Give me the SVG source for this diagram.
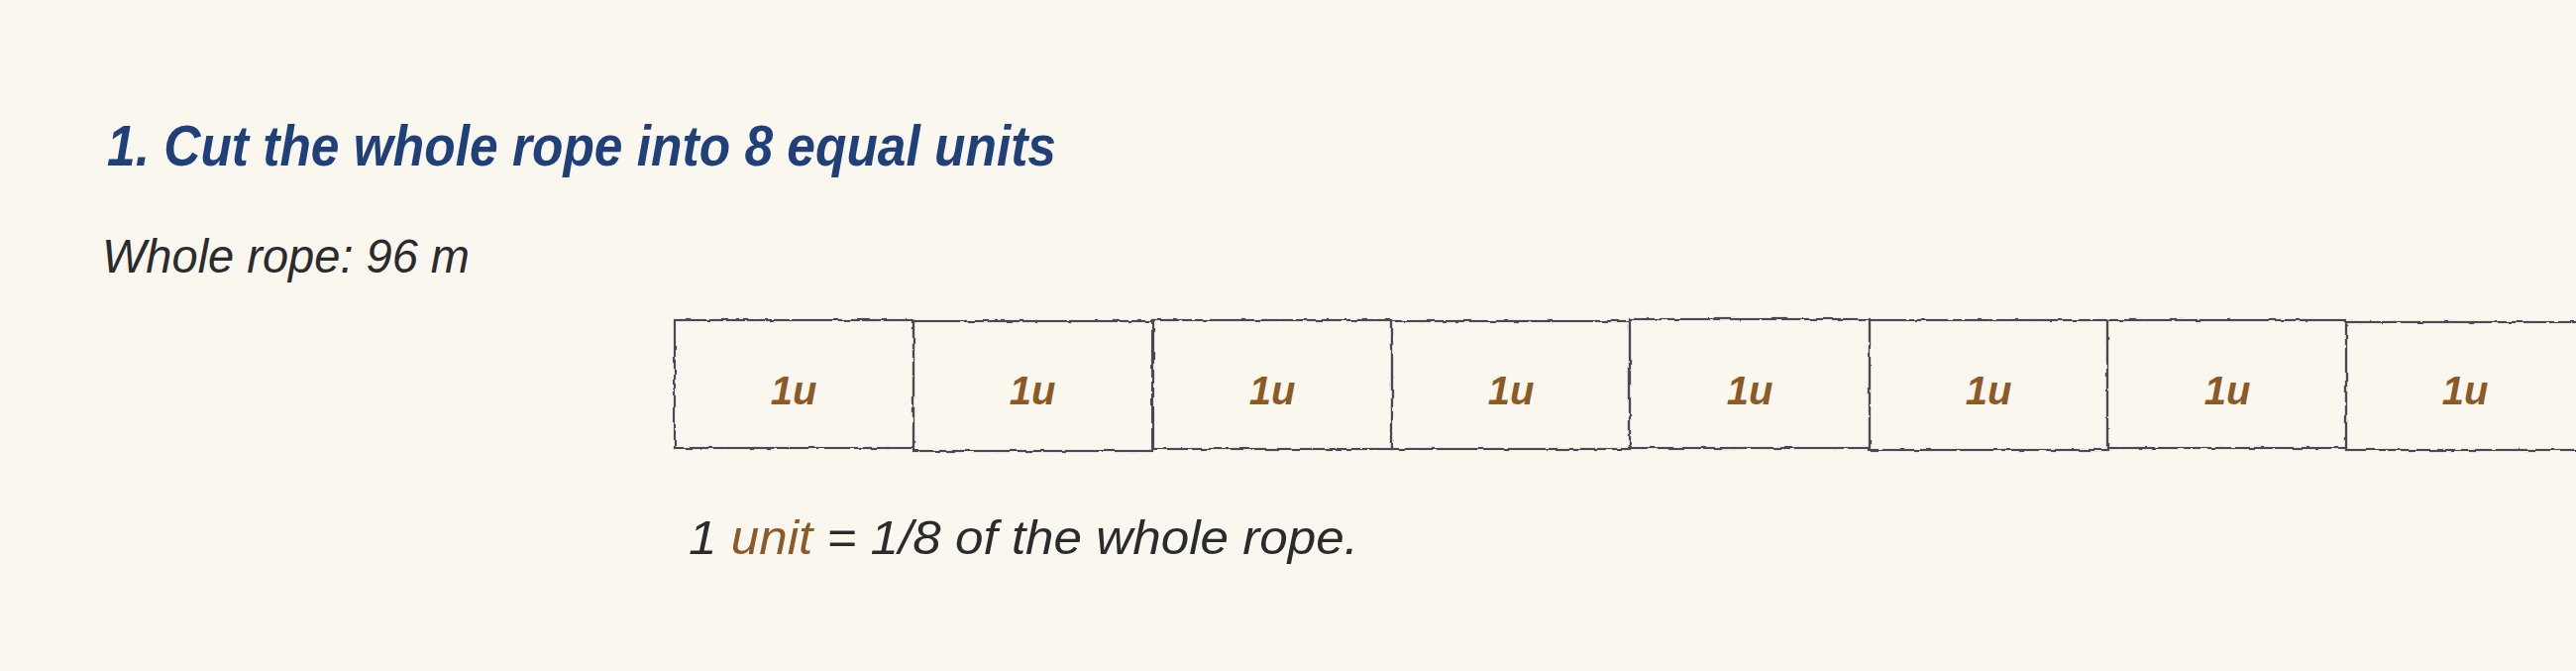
<svg xmlns="http://www.w3.org/2000/svg" width="2600" height="677" viewBox="0 0 2600 677">
  <defs>
    <filter id="rough" x="-5%" y="-5%" width="110%" height="110%">
      <feTurbulence type="fractalNoise" baseFrequency="0.08" numOctaves="2" seed="4" result="n"/>
      <feDisplacementMap in="SourceGraphic" in2="n" scale="3.5" xChannelSelector="R" yChannelSelector="G"/>
    </filter>
  </defs>
  <style>
    .hand { font-family: "Liberation Sans Narrow", "Liberation Sans", "DejaVu Sans", sans-serif; font-style: italic; }
    .title { fill: #1f4079; font-weight: bold; font-size: 58px; }
    .body { fill: #2b2b2e; font-size: 48px; }
    .unit { fill: #8b5a26; }
    .u { fill: #8b5a26; font-size: 40px; font-weight: bold; text-anchor: middle; }
    .box { fill: none; stroke: #4a4a55; stroke-width: 2.2; filter: url(#rough); }
  </style>
  <rect x="0" y="0" width="2600" height="677" fill="#faf7ef"/>

  <g id="title">
    <text class="hand title" x="108" y="167" textLength="958" lengthAdjust="spacingAndGlyphs">1. Cut the whole rope into 8 equal units</text>
  </g>
  <g id="whole-label">
    <text class="hand body" x="103" y="275" textLength="371" lengthAdjust="spacingAndGlyphs">Whole rope: 96 m</text>
  </g>

  <g id="unit-1"><rect class="box" x="681" y="323" width="241" height="129"/><text class="hand u" x="801" y="408">1u</text></g>
  <g id="unit-2"><rect class="box" x="922" y="324" width="241" height="131"/><text class="hand u" x="1042" y="408">1u</text></g>
  <g id="unit-3"><rect class="box" x="1164" y="323" width="241" height="130"/><text class="hand u" x="1284" y="408">1u</text></g>
  <g id="unit-4"><rect class="box" x="1405" y="324" width="240" height="129"/><text class="hand u" x="1525" y="408">1u</text></g>
  <g id="unit-5"><rect class="box" x="1645" y="322" width="242" height="130"/><text class="hand u" x="1766" y="408">1u</text></g>
  <g id="unit-6"><rect class="box" x="1887" y="323" width="240" height="131"/><text class="hand u" x="2007" y="408">1u</text></g>
  <g id="unit-7"><rect class="box" x="2127" y="323" width="241" height="129"/><text class="hand u" x="2248" y="408">1u</text></g>
  <g id="unit-8"><rect class="box" x="2368" y="325" width="241" height="129"/><text class="hand u" x="2488" y="408">1u</text></g>

  <g id="unit-note">
    <text class="hand body" x="695" y="559" textLength="676" lengthAdjust="spacingAndGlyphs">1 <tspan class="unit">unit</tspan> = 1/8 of the whole rope.</text>
  </g>
</svg>
